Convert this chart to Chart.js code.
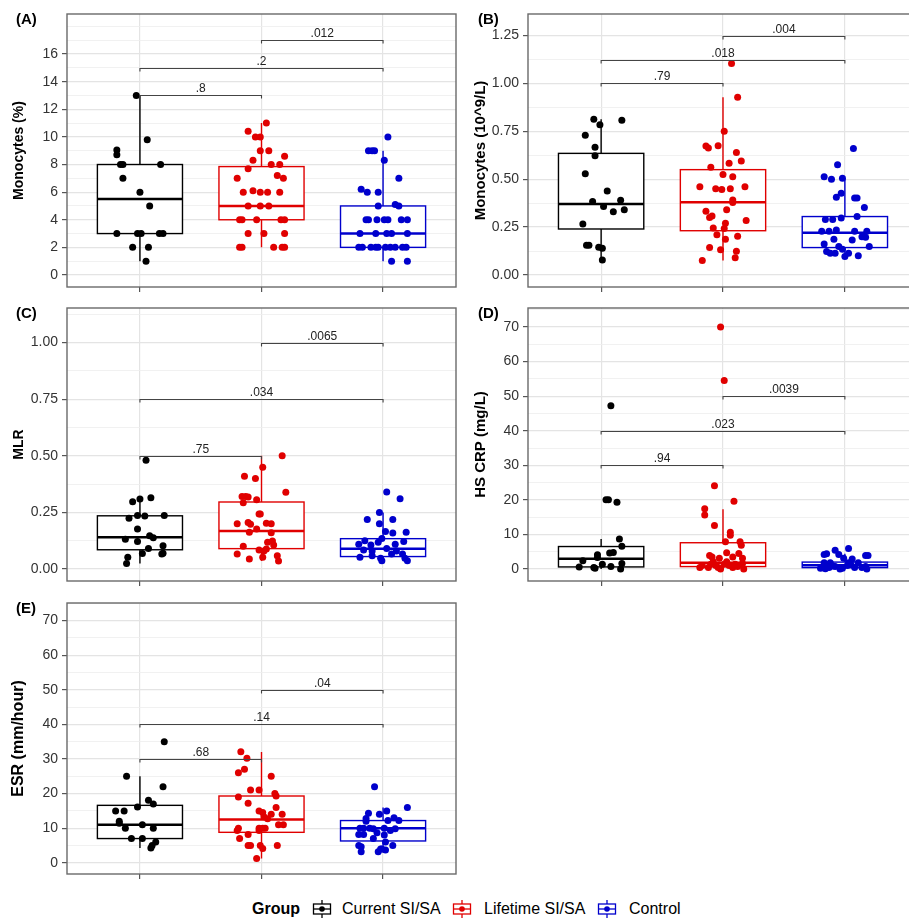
<!DOCTYPE html>
<html>
<head>
<meta charset="utf-8">
<script src="https://cdn.jsdelivr.net/npm/chart.js@4.4.0/dist/chart.umd.min.js"></script>
<style>
body{margin:0;width:909px;height:922px;overflow:hidden;background:#fff;position:relative;font-family:'Liberation Sans',Arial,sans-serif;}
canvas{position:absolute;}
.lg{position:absolute;top:899px;font-size:16px;line-height:20px;color:#000;white-space:nowrap;}
.key{position:absolute;top:900px;}
</style>
</head>
<body>
<canvas id="pA" width="460" height="300" style="left:0px;top:0px"></canvas>
<canvas id="pB" width="470" height="300" style="left:455px;top:0px"></canvas>
<canvas id="pC" width="460" height="300" style="left:0px;top:294px"></canvas>
<canvas id="pD" width="470" height="300" style="left:455px;top:294px"></canvas>
<canvas id="pE" width="460" height="298" style="left:0px;top:589px"></canvas>

<b class="lg" style="left:252px">Group</b>
<svg class="key" style="left:312px" width="20" height="18"><line x1="10" y1="0" x2="10" y2="18" stroke="#000" stroke-width="1.3"/><rect x="1.5" y="4" width="17" height="10" fill="#fff" stroke="#000" stroke-width="1.3"/><line x1="1.5" y1="9" x2="18.5" y2="9" stroke="#000" stroke-width="1.3"/><circle cx="10" cy="9" r="2.8" fill="#000"/></svg>
<span class="lg" style="left:342px">Current SI/SA</span>
<svg class="key" style="left:452px" width="20" height="18"><line x1="10" y1="0" x2="10" y2="18" stroke="#E00000" stroke-width="1.3"/><rect x="1.5" y="4" width="17" height="10" fill="#fff" stroke="#E00000" stroke-width="1.3"/><line x1="1.5" y1="9" x2="18.5" y2="9" stroke="#E00000" stroke-width="1.3"/><circle cx="10" cy="9" r="2.8" fill="#E00000"/></svg>
<span class="lg" style="left:484px">Lifetime SI/SA</span>
<svg class="key" style="left:597px" width="20" height="18"><line x1="10" y1="0" x2="10" y2="18" stroke="#0000CC" stroke-width="1.3"/><rect x="1.5" y="4" width="17" height="10" fill="#fff" stroke="#0000CC" stroke-width="1.3"/><line x1="1.5" y1="9" x2="18.5" y2="9" stroke="#0000CC" stroke-width="1.3"/><circle cx="10" cy="9" r="2.8" fill="#0000CC"/></svg>
<span class="lg" style="left:629px">Control</span>

<script>
// grupper och färger
const groupNames = ['Current SI/SA', 'Lifetime SI/SA', 'Control'];
const groupColors = ['#000000', '#E00000', '#0000CC'];
const sigPairs = [[1, 2], [1, 3], [2, 3]];
const fam = "'Liberation Sans', Arial, sans-serif";

// (A) Monocytes (%)
const monoPctTicks = ['0', '2', '4', '6', '8', '10', '12', '14', '16'];
const monoPctBox = [[1, 3, 5.5, 8, 13], [2, 4, 5, 7.85, 11], [1, 2, 3, 5, 9]]; // lo, q1, median, q3, hi
const monoPctCur = [13, 9.8, 9.05, 8.7, 8, 8, 8, 7, 6, 5, 3, 3, 3, 3, 3, 2, 2, 1];
const monoPctCurJit = [-0.03, 0.06, -0.19, -0.19, -0.16, -0.14, 0.17, -0.14, 0, 0.08, -0.19, -0.02, 0.01, 0.16, 0.19, -0.06, 0.07, 0.05];
const monoPctLife = [11, 10.4, 10, 10, 9, 9, 8.6, 8.3, 8, 8, 7.7, 7.2, 7, 7, 6, 6.1, 6, 6, 6, 5, 5, 5, 4, 4, 4, 4, 4, 3, 3, 3, 2, 2, 2, 2, 2];
const monoPctLifeJit = [0.04, -0.11, -0.05, -0.01, -0.01, 0.06, 0.19, -0.07, 0.08, 0.15, -0.11, 0.13, -0.2, 0.18, -0.15, -0.07, -0.01, 0.05, 0.15, -0.11, -0.01, 0.06, -0.18, -0.16, -0.04, 0.16, 0.19, -0.11, 0.02, 0.19, -0.18, -0.16, 0.1, 0.17, 0.19];
const monoPctCtrl = [10, 9, 9, 9, 8.3, 7, 6.2, 6, 6, 5, 5.1, 5, 4, 4, 4, 4, 4, 4, 4, 3, 3, 3, 3, 3, 2, 2, 2, 2, 2, 2, 2, 2, 2, 2, 1, 1];
const monoPctCtrlJit = [0.04, -0.12, -0.09, -0.07, 0.01, 0.13, -0.18, -0.13, -0.04, -0.04, 0.1, 0.13, -0.14, -0.12, -0.05, 0.01, 0.04, 0.15, 0.2, -0.19, -0.06, 0.03, 0.07, 0.2, -0.2, -0.17, -0.1, -0.06, -0.04, 0.02, 0.06, 0.1, 0.16, 0.19, 0.07, 0.2];
const monoPctSig = ['.8', '.2', '.012'];
const monoPctSigY = [13, 15, 17];

// (B) Monocytes (10^9/L)
const monoAbsTicks = ['0.00', '0.25', '0.50', '0.75', '1.00', '1.25'];
const monoAbsBox = [[0.078, 0.24, 0.37, 0.635, 0.813], [0.075, 0.231, 0.38, 0.55, 0.928], [0.095, 0.143, 0.22, 0.305, 0.505]];
const monoAbsCur = [0.813, 0.785, 0.808, 0.73, 0.667, 0.623, 0.529, 0.439, 0.383, 0.357, 0.33, 0.39, 0.34, 0.266, 0.155, 0.155, 0.145, 0.14, 0.078];
const monoAbsCurJit = [-0.06, -0.01, 0.17, -0.13, -0.05, -0.05, -0.13, 0.05, -0.07, 0.02, 0.1, 0.16, 0.19, -0.15, -0.12, -0.1, -0.02, 0.01, 0.01];
const monoAbsLife = [1.105, 0.928, 0.75, 0.674, 0.663, 0.675, 0.639, 0.595, 0.583, 0.562, 0.524, 0.513, 0.46, 0.45, 0.446, 0.45, 0.461, 0.392, 0.378, 0.333, 0.34, 0.3, 0.308, 0.27, 0.284, 0.245, 0.242, 0.21, 0.186, 0.202, 0.143, 0.132, 0.124, 0.09, 0.075];
const monoAbsLifeJit = [0.07, 0.12, 0.01, -0.14, -0.12, -0.04, 0.11, 0.15, 0.05, -0.1, 0, 0.08, -0.19, -0.06, -0.01, 0.06, 0.18, 0.08, 0.08, -0.14, 0.03, -0.11, -0.09, 0.02, 0.19, -0.08, 0.01, -0.05, 0.02, 0.12, -0.11, -0.02, 0.11, 0.1, -0.17];
const monoAbsCtrl = [0.66, 0.576, 0.513, 0.5, 0.505, 0.427, 0.406, 0.402, 0.402, 0.352, 0.289, 0.289, 0.298, 0.305, 0.228, 0.228, 0.235, 0.228, 0.228, 0.186, 0.183, 0.2, 0.197, 0.162, 0.148, 0.148, 0.122, 0.113, 0.113, 0.134, 0.096, 0.113, 0.1];
const monoAbsCtrlJit = [0.07, -0.06, -0.17, -0.11, -0.02, -0.03, -0.07, 0.08, 0.1, 0.16, -0.16, -0.1, -0.03, 0.1, -0.19, -0.13, -0.07, 0.08, 0.18, -0.09, 0.06, 0.14, 0.17, -0.17, 0.2, -0.05, -0.15, -0.12, -0.08, -0.02, 0, 0.03, 0.11];
const monoAbsSig = ['.79', '.018', '.004'];
const monoAbsSigY = [1.0, 1.125, 1.25];

// (C) MLR
const mlrTicks = ['0.00', '0.25', '0.50', '0.75', '1.00'];
const mlrBox = [[0.024, 0.085, 0.14, 0.235, 0.315], [0.035, 0.09, 0.168, 0.296, 0.5], [0.037, 0.055, 0.09, 0.134, 0.25]];
const mlrCur = [0.48, 0.297, 0.309, 0.315, 0.224, 0.236, 0.234, 0.236, 0.177, 0.131, 0.147, 0.138, 0.121, 0.091, 0.103, 0.069, 0.066, 0.07, 0.052, 0.024];
const mlrCurJit = [0.05, -0.06, 0, 0.09, -0.09, -0.02, 0.04, 0.2, -0.02, -0.12, 0.08, 0.11, -0.02, 0.07, 0.19, 0.02, 0.18, 0.19, -0.1, -0.11];
const mlrLife = [0.5, 0.449, 0.41, 0.4, 0.339, 0.32, 0.32, 0.318, 0.293, 0.306, 0.243, 0.243, 0.2, 0.205, 0.198, 0.202, 0.2, 0.177, 0.16, 0.162, 0.124, 0.118, 0.106, 0.1, 0.084, 0.08, 0.088, 0.066, 0.059, 0.044, 0.052, 0.035];
const mlrLifeJit = [0.17, 0.01, -0.14, -0.05, 0.2, -0.16, -0.13, -0.11, -0.15, -0.04, -0.02, -0.01, -0.2, -0.11, -0.09, 0.04, 0.08, -0.04, 0.08, -0.1, 0.09, 0.05, 0.1, -0.15, -0.02, 0.02, 0.04, -0.2, 0.13, -0.1, 0.01, 0.14];
const mlrCtrl = [0.34, 0.31, 0.25, 0.219, 0.219, 0.2, 0.166, 0.159, 0.162, 0.135, 0.125, 0.109, 0.106, 0.118, 0.109, 0.121, 0.084, 0.08, 0.091, 0.08, 0.052, 0.059, 0.047, 0.066, 0.066, 0.047, 0.037, 0.037];
const mlrCtrlJit = [0.03, 0.14, -0.03, -0.13, 0.08, -0.03, 0.02, 0.08, 0.19, -0.01, -0.15, -0.2, -0.1, -0.04, 0.1, 0.17, -0.16, -0.09, 0.03, 0.11, -0.19, -0.09, -0.02, 0.07, 0.16, 0.18, 0.2, -0.01];
const mlrSig = ['.75', '.034', '.0065'];
const mlrSigY = [0.5, 0.75, 1.0];

// (D) HS CRP (mg/L)
const crpTicks = ['0', '10', '20', '30', '40', '50', '60', '70'];
const crpBox = [[0, 0.6, 3, 6.5, 8.7], [0, 0.7, 1.8, 7.6, 17.3], [0, 0.4, 1.1, 2, 4.4]];
const crpCur = [47.2, 20, 20, 19.3, 8.7, 6.6, 4.1, 4.6, 4.8, 2.4, 3.3, 1.35, 0.7, 1.6, 0.6, 0.4, 0.2, 0];
const crpCurJit = [0.08, 0.04, 0.06, 0.13, 0.15, 0.17, -0.03, 0.07, 0.1, -0.15, -0.03, 0.01, 0.08, 0.17, -0.18, -0.06, -0.05, 0.16];
const crpLife = [70, 54.5, 24.1, 19.6, 17.4, 15.6, 12.6, 10.6, 9.8, 7.9, 7.9, 6.9, 4.7, 4.5, 3.9, 3.5, 3.1, 3.5, 3.1, 0.4, 1, 0.4, 1.4, 2.1, 1, 0.4, 0, 1.4, 2.1, 1, 0.4, 1.4, 0.7, 0, 1.6];
const crpLifeJit = [-0.02, 0.01, -0.07, 0.09, -0.15, -0.15, -0.07, 0.06, 0.06, 0.02, 0.14, 0.15, 0.03, 0.13, -0.11, -0.09, -0.03, 0.08, 0.16, -0.19, -0.17, -0.12, -0.1, -0.08, -0.06, -0.04, -0.02, 0.01, 0.03, 0.05, 0.08, 0.1, 0.12, 0.17, 0.16];
const crpCtrl = [5.9, 5.4, 4.2, 4.4, 4.2, 3.9, 3.9, 3.1, 2.9, 1.8, 1.8, 1.8, 1.8, 0.2, 0.4, 0.7, 0.2, 1, 0.4, 0.4, 0.7, 0, 0.1, 0, 1.2, 0.9];
const crpCtrlJit = [0.03, -0.08, -0.17, -0.15, -0.05, 0.17, 0.19, -0.01, 0.06, -0.17, -0.12, 0.03, 0.11, -0.2, -0.13, -0.08, -0.02, 0.02, 0.08, 0.14, 0.17, -0.04, -0.16, 0.18, 0.05, -0.1];
const crpSig = ['.94', '.023', '.0039'];
const crpSigY = [30, 40, 50];

// (E) ESR (mm/hour)
const esrTicks = ['0', '10', '20', '30', '40', '50', '60', '70'];
const esrBox = [[4.3, 7, 11, 16.6, 25], [1.2, 8.8, 12.5, 19.3, 32], [3, 6.3, 10, 12.2, 16]];
const esrCur = [35, 25, 22, 18.1, 17, 16.1, 15, 15, 12, 11.4, 11, 10, 10, 7, 7, 6, 5, 4.3];
const esrCurJit = [0.2, -0.11, 0.19, 0.07, 0.11, -0.02, -0.2, -0.13, -0.17, -0.17, 0.02, -0.12, 0.11, -0.07, 0.02, 0.13, 0.1, 0.09];
const esrLife = [32.1, 30.2, 26, 27, 25, 21, 21, 20, 19.3, 19, 17.2, 16, 15, 14.5, 14, 14, 13.3, 12.7, 11, 11, 10, 10, 10, 10, 9.3, 9.3, 8.2, 7, 5, 5, 5, 5, 4.1, 1.2];
const esrLifeJit = [-0.17, -0.12, -0.19, -0.14, 0.08, -0.09, -0.02, 0.11, 0.12, -0.19, -0.11, 0.12, -0.02, 0.01, 0.08, 0.17, 0.02, 0.05, 0.14, 0.18, -0.19, -0.02, 0.01, 0.03, -0.2, -0.02, -0.11, -0.18, -0.11, -0.09, -0.01, 0.13, 0.01, -0.04];
const esrCtrl = [22, 16, 14, 15, 14.3, 12.8, 12, 13, 12.2, 12.2, 10, 10, 10, 9.8, 10, 9.3, 9.8, 8.7, 8.2, 8.2, 8, 7, 5, 4.6, 5, 6, 4, 3.7, 3.2, 3.2, 4];
const esrCtrlJit = [-0.07, 0.2, -0.03, 0.03, -0.12, -0.14, -0.14, 0.09, 0.04, 0.13, -0.19, -0.16, -0.11, -0.08, 0.01, 0.06, 0.1, -0.05, -0.2, -0.16, 0.01, -0.08, -0.2, -0.18, 0.08, 0.02, -0.02, 0.02, -0.18, -0.04, -0.01];
const esrSig = ['.68', '.14', '.04'];
const esrSigY = [30, 40, 50];

// panelinställningar (layout)
const panels = [
    {id: 'pA', tag: '(A)', tagX: 16, title: 'Monocytes (%)', titleSize: 14, titleX: 19, axisW: 67, plotBottom: 287,
     yMin: -0.87, yMax: 18.9, minorStep: 1, ticks: monoPctTicks, box: monoPctBox,
     values: [monoPctCur, monoPctLife, monoPctCtrl], jit: [monoPctCurJit, monoPctLifeJit, monoPctCtrlJit], sig: monoPctSig, sigY: monoPctSigY},
    {id: 'pB', tag: '(B)', tagX: 23, title: 'Monocytes (10^9/L)', titleSize: 15, titleX: 26, axisW: 73, plotBottom: 287,
     yMin: -0.063, yMax: 1.363, minorStep: 0.125, ticks: monoAbsTicks, box: monoAbsBox,
     values: [monoAbsCur, monoAbsLife, monoAbsCtrl], jit: [monoAbsCurJit, monoAbsLifeJit, monoAbsCtrlJit], sig: monoAbsSig, sigY: monoAbsSigY},
    {id: 'pC', tag: '(C)', tagX: 16, title: 'MLR', titleSize: 14, titleX: 19, axisW: 67, plotBottom: 287,
     yMin: -0.053, yMax: 1.153, minorStep: 0.125, ticks: mlrTicks, box: mlrBox,
     values: [mlrCur, mlrLife, mlrCtrl], jit: [mlrCurJit, mlrLifeJit, mlrCtrlJit], sig: mlrSig, sigY: mlrSigY},
    {id: 'pD', tag: '(D)', tagX: 23, title: 'HS CRP (mg/L)', titleSize: 15, titleX: 26, axisW: 73, plotBottom: 287,
     yMin: -3.47, yMax: 75.5, minorStep: 5, ticks: crpTicks, box: crpBox,
     values: [crpCur, crpLife, crpCtrl], jit: [crpCurJit, crpLifeJit, crpCtrlJit], sig: crpSig, sigY: crpSigY},
    {id: 'pE', tag: '(E)', tagX: 16, title: 'ESR (mm/hour)', titleSize: 16, titleX: 19, axisW: 67, plotBottom: 285,
     yMin: -3.25, yMax: 75.1, minorStep: 5, ticks: esrTicks, box: esrBox,
     values: [esrCur, esrLife, esrCtrl], jit: [esrCurJit, esrLifeJit, esrCtrlJit], sig: esrSig, sigY: esrSigY}
];

// ritar boxar, signifikansklamrar, ram och panelbokstav
function panelPlugin(p)
{
    return {
        id: 'panel_' + p.id,
        beforeDatasetsDraw(chart) {
            const {ctx, scales: {x, y}} = chart;
            p.box.forEach((s, g) => {
                const cx = x.getPixelForValue(g + 1);
                const hw = x.getPixelForValue(g + 1.35) - cx;
                const [lo, q1, med, q3, hi] = s.map(v => y.getPixelForValue(v));
                ctx.save();
                ctx.strokeStyle = groupColors[g];
                ctx.lineWidth = 1.4;
                ctx.beginPath();
                ctx.moveTo(cx, q3); ctx.lineTo(cx, hi);
                ctx.moveTo(cx, q1); ctx.lineTo(cx, lo);
                ctx.stroke();
                ctx.fillStyle = '#fff';
                ctx.fillRect(cx - hw, q3, 2 * hw, q1 - q3);
                ctx.strokeRect(cx - hw, q3, 2 * hw, q1 - q3);
                ctx.lineWidth = 2.5;
                ctx.beginPath();
                ctx.moveTo(cx - hw, med); ctx.lineTo(cx + hw, med);
                ctx.stroke();
                ctx.restore();
            });
        },
        afterDatasetsDraw(chart) {
            const {ctx, chartArea: a, scales: {x, y}} = chart;
            ctx.save();
            // klamrar
            ctx.strokeStyle = '#444';
            ctx.lineWidth = 1.1;
            ctx.fillStyle = '#222';
            ctx.font = '12px ' + fam;
            ctx.textAlign = 'center';
            ctx.textBaseline = 'bottom';
            sigPairs.forEach(([g1, g2], k) => {
                const x1 = x.getPixelForValue(g1), x2 = x.getPixelForValue(g2);
                const yy = Math.round(y.getPixelForValue(p.sigY[k])) + 0.5;
                ctx.beginPath();
                ctx.moveTo(x1, yy + 3); ctx.lineTo(x1, yy); ctx.lineTo(x2, yy); ctx.lineTo(x2, yy + 3);
                ctx.stroke();
                ctx.fillText(p.sig[k], (x1 + x2) / 2, yy - 1);
            });
            // ram
            ctx.strokeStyle = '#6a6a6a';
            ctx.lineWidth = 1.4;
            ctx.strokeRect(a.left, a.top, a.right - a.left, a.bottom - a.top);
            // panelbokstav
            ctx.fillStyle = '#000';
            ctx.font = 'bold 15px ' + fam;
            ctx.textAlign = 'left';
            ctx.textBaseline = 'middle';
            ctx.fillText(p.tag, p.tagX, 20);
            ctx.restore();
        }
    };
}

function draw_panel(p)
{
    const canvas = document.getElementById(p.id);
    const majors = p.ticks.map(Number);
    const majorIndex = v => majors.findIndex(m => Math.abs(m - v) < 1e-6);
    const datasets = p.values.map((vals, g) => ({
        label: groupNames[g],
        data: vals.map((v, i) => ({x: g + 1 + p.jit[g][i], y: v})),
        backgroundColor: groupColors[g],
        borderWidth: 0,
        pointRadius: 3.5
    }));
    const padRight = canvas.width - p.axisW - 390;

    new Chart(canvas, {
        type: 'scatter',
        data: {datasets: datasets},
        options: {
            responsive: false,
            animation: false,
            devicePixelRatio: 1,
            layout: {padding: {top: 14, right: padRight, left: 0, bottom: 0}},
            plugins: {legend: {display: false}, tooltip: {enabled: false}},
            scales: {
                x: {
                    type: 'linear', min: 0.4, max: 3.6,
                    afterBuildTicks: s => { s.ticks = [1, 2, 3].map(v => ({value: v})); },
                    afterFit: s => { s.height = canvas.height - p.plotBottom; },
                    ticks: {callback: () => '', autoSkip: false},
                    grid: {color: '#E4E4E4', lineWidth: 1.2, tickLength: 5, tickColor: '#555'},
                    border: {display: false}
                },
                y: {
                    min: p.yMin, max: p.yMax,
                    afterBuildTicks: s => {
                        const t = [];
                        for (let i = Math.ceil(p.yMin / p.minorStep); i * p.minorStep <= p.yMax + 1e-9; i++)
                            t.push({value: +(i * p.minorStep).toFixed(6)});
                        s.ticks = t;
                    },
                    afterFit: s => { s.width = p.axisW; },
                    ticks: {
                        autoSkip: false,
                        padding: 4,
                        color: '#333',
                        font: {size: 14, family: fam},
                        callback: v => { const k = majorIndex(v); return k < 0 ? '' : p.ticks[k]; }
                    },
                    grid: {
                        color: c => majorIndex(c.tick.value) >= 0 ? '#E4E4E4' : '#EDEDED',
                        lineWidth: c => majorIndex(c.tick.value) >= 0 ? 1.2 : 0.8,
                        tickLength: 5,
                        tickColor: c => majorIndex(c.tick.value) >= 0 ? '#555' : 'rgba(0,0,0,0)'
                    },
                    border: {display: false},
                    title: {
                        display: true, text: p.title, color: '#000',
                        font: {size: p.titleSize, weight: 'bold', family: fam, lineHeight: 1.2},
                        padding: {top: p.titleX - p.titleSize * 0.6, bottom: 0}
                    }
                }
            }
        },
        plugins: [panelPlugin(p)]
    });
}

panels.forEach(p => draw_panel(p));
</script>
</body>
</html>
